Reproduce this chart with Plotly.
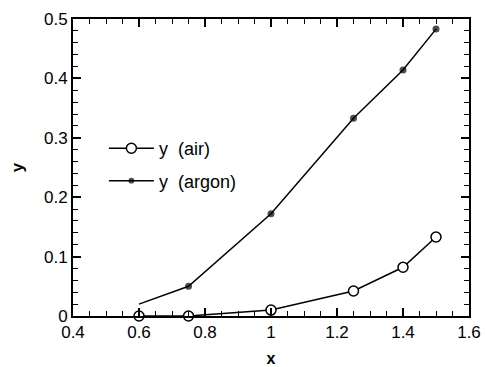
import plotly.graph_objects as go

x_air = [0.6, 0.75, 1.0, 1.25, 1.4, 1.5]
y_air = [0.0, 0.0, 0.01, 0.042, 0.082, 0.133]
x_argon = [0.6, 0.75, 1.0, 1.25, 1.4, 1.5]
y_argon = [0.02, 0.05, 0.172, 0.333, 0.414, 0.483]
argon_marker_sizes = [0, 7, 7, 7, 7, 7]

font = "Liberation Sans, Arial, Helvetica, sans-serif"

fig = go.Figure()
fig.add_trace(go.Scatter(
    x=x_air, y=y_air, mode="lines+markers", name="y  (air)",
    line=dict(color="black", width=1.5),
    marker=dict(symbol="circle", size=10, color="white", line=dict(color="black", width=1.5)),
    legendgroup="a", cliponaxis=False,
))
fig.add_trace(go.Scatter(
    x=x_argon, y=y_argon, mode="lines+markers", name="y  (argon)",
    line=dict(color="black", width=1.5),
    marker=dict(symbol="circle", size=argon_marker_sizes, color="black", line=dict(width=0)),
    legendgroup="b", cliponaxis=False,
))

axis_common = dict(
    showgrid=False, zeroline=False, automargin=False,
    showline=True, linecolor="black", linewidth=2, mirror="allticks",
    ticks="inside", ticklen=8, tickwidth=1.5, tickcolor="black",
    tickfont=dict(family=font, size=17, color="black"),
)

fig.update_xaxes(
    range=[0.4, 1.6], tickvals=[0.4, 0.6, 0.8, 1.0, 1.2, 1.4, 1.6],
    ticktext=["0.4", "0.6", "0.8", "1", "1.2", "1.4", "1.6"],
    minor=dict(dtick=0.05, ticks="inside", ticklen=5, tickwidth=1.2, tickcolor="black"),
    title=dict(text="<b>x</b>", font=dict(family=font, size=16, color="black"), standoff=13),
    **axis_common,
)
fig.update_yaxes(
    range=[0, 0.5], tickvals=[0, 0.1, 0.2, 0.3, 0.4, 0.5],
    ticktext=["0", "0.1", "0.2", "0.3", "0.4", "0.5"],
    minor=dict(dtick=0.02, ticks="inside", ticklen=5, tickwidth=1.2, tickcolor="black"),
    title=dict(text="<b>y</b>", font=dict(family=font, size=17, color="black"), standoff=16),
    **axis_common,
)

fig.update_layout(
    width=487, height=367,
    margin=dict(l=73, r=18, t=19, b=51),
    paper_bgcolor="white", plot_bgcolor="white",
    showlegend=True,
    legend=dict(x=0.078, y=0.51, xanchor="left", yanchor="middle",
                font=dict(family=font, size=18, color="black"),
                bgcolor="rgba(0,0,0,0)", tracegroupgap=6, itemwidth=45),
)

fig.write_html("out.html", config={"displayModeBar": False},
               post_script="document.body.style.margin='0';document.body.style.overflow='hidden';")
